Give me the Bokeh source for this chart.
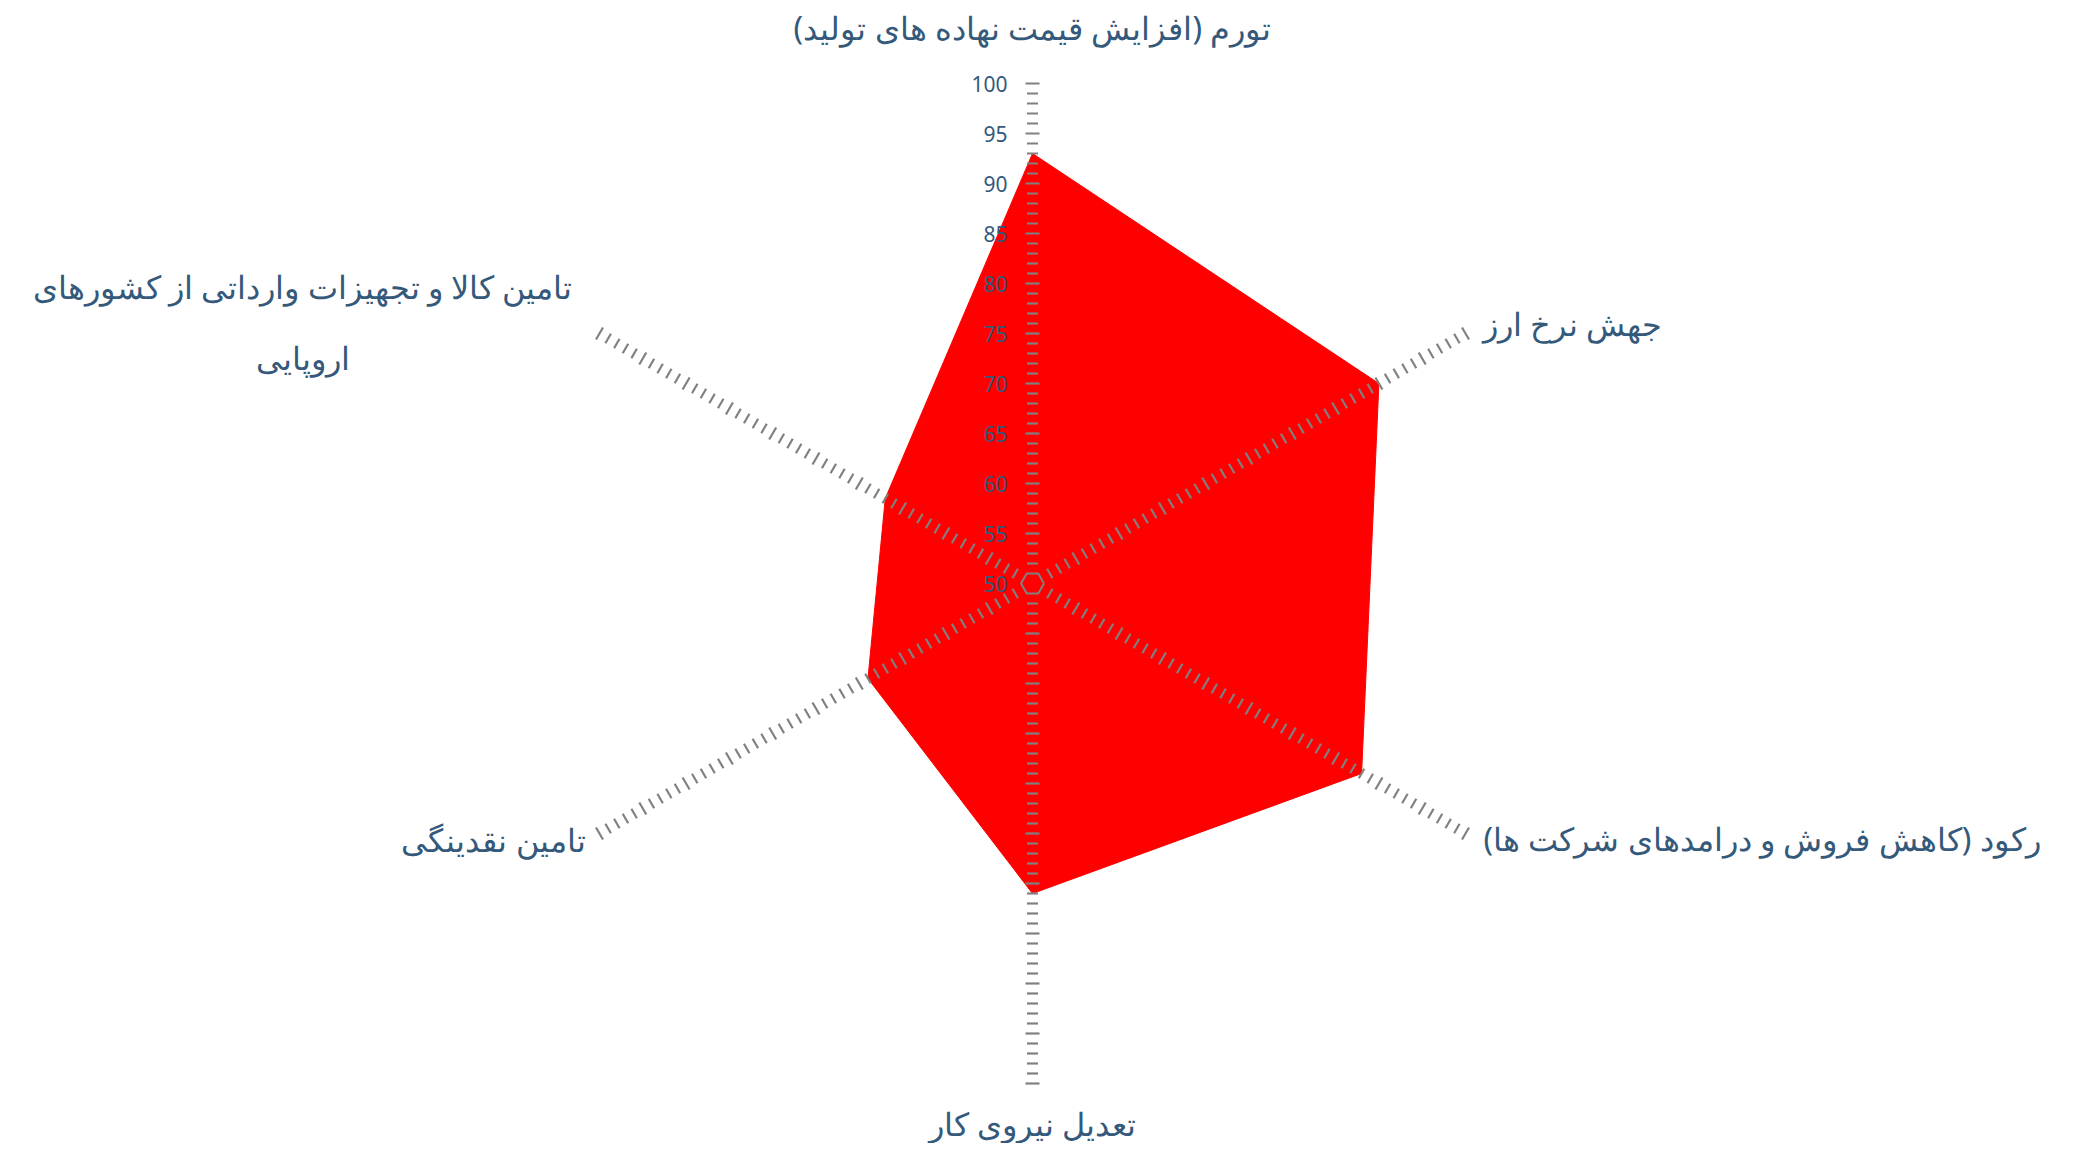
import math
from bokeh.plotting import figure
from bokeh.models import Range1d
from bokeh.core.properties import value
from bokeh.embed import file_html
from bokeh.resources import INLINE

# ---- data ----
categories = [
    "تورم (افزایش قیمت نهاده های تولید)",
    "جهش نرخ ارز",
    "رکود (کاهش فروش و درامدهای شرکت ها)",
    "تعدیل نیروی کار",
    "تامین نقدینگی",
    "تامین کالا و تجهیزات وارداتی از کشورهای اروپایی",
]
values = [93, 90, 88, 81, 69, 67]
axis_min = 50
axis_max = 100
tick_labels = ["50", "55", "60", "65", "70", "75", "80", "85", "90", "95", "100"]

# ---- layout ----
W, H = 2067, 1143
CX, CY = 1032, 583          # centre in figure px
R = 500                      # radius in px for axis_max
FONT = "Noto Sans"
LABEL_COLOR = "#34597a"
TICK_COLOR = "#808080"

p = figure(width=W, height=H, output_backend="svg", toolbar_location=None,
           x_range=Range1d(-CX, W - CX), y_range=Range1d(CY - H, CY),
           min_border=0)
p.axis.visible = False
p.grid.visible = False
p.outline_line_color = None
p.background_fill_color = "white"

n = len(categories)
angles = [math.pi / 2 - i * 2 * math.pi / n for i in range(n)]


def rad(v):
    return (v - axis_min) / (axis_max - axis_min) * R


# filled area
xs = [rad(v) * math.cos(a) for v, a in zip(values, angles)]
ys = [rad(v) * math.sin(a) for v, a in zip(values, angles)]
p.patch(xs, ys, fill_color="#ff0000", line_color="#ff0000", line_width=1)

# small hexagon at centre
hx = [11.5 * math.cos(k * math.pi / 3) for k in range(7)]
hy = [11.5 * math.sin(k * math.pi / 3) for k in range(7)]
p.line(hx, hy, line_color=TICK_COLOR, line_width=2)

# tick marks along each spoke
x0s, y0s, x1s, y1s = [], [], [], []
for a in angles:
    ca, sa = math.cos(a), math.sin(a)
    px_, py_ = -sa, ca
    for v in range(axis_min + 2, axis_max + 1):
        r = rad(v)
        half = 7 if v % 5 == 0 else 5.5
        bx, by = r * ca, r * sa
        x0s.append(bx - half * px_)
        y0s.append(by - half * py_)
        x1s.append(bx + half * px_)
        y1s.append(by + half * py_)
p.segment(x0s, y0s, x1s, y1s, line_color=TICK_COLOR, line_width=2.2)

# numeric tick labels on the top spoke
tv = [int(t) for t in tick_labels]
p.text(x=[-25] * len(tv), y=[rad(v) for v in tv], text=tick_labels,
       text_align="right", text_baseline="middle",
       text_font=value(FONT), text_font_size="21px", text_color=LABEL_COLOR)

# category labels
lab_fs = "32px"
common = dict(text_baseline="middle", text_font=value(FONT),
              text_font_size=lab_fs, text_color=LABEL_COLOR)
# top
p.text(x=[0], y=[556], text=[categories[0]], text_align="center", **common)
# upper right
p.text(x=[450], y=[260], text=[categories[1]], text_align="left", **common)
# lower right
p.text(x=[451], y=[-255], text=[categories[2]], text_align="left", **common)
# bottom
p.text(x=[0], y=[-540], text=[categories[3]], text_align="center", **common)
# lower left
p.text(x=[-447], y=[-256], text=[categories[4]], text_align="right", **common)
# upper left (two lines)
words = categories[5].split(" ")
line1 = " ".join(words[:-1])
line2 = words[-1]
p.text(x=[-730, -730], y=[297, 226], text=[line1, line2], text_align="center", **common)

open("out.html", "w").write(file_html(p, INLINE))
